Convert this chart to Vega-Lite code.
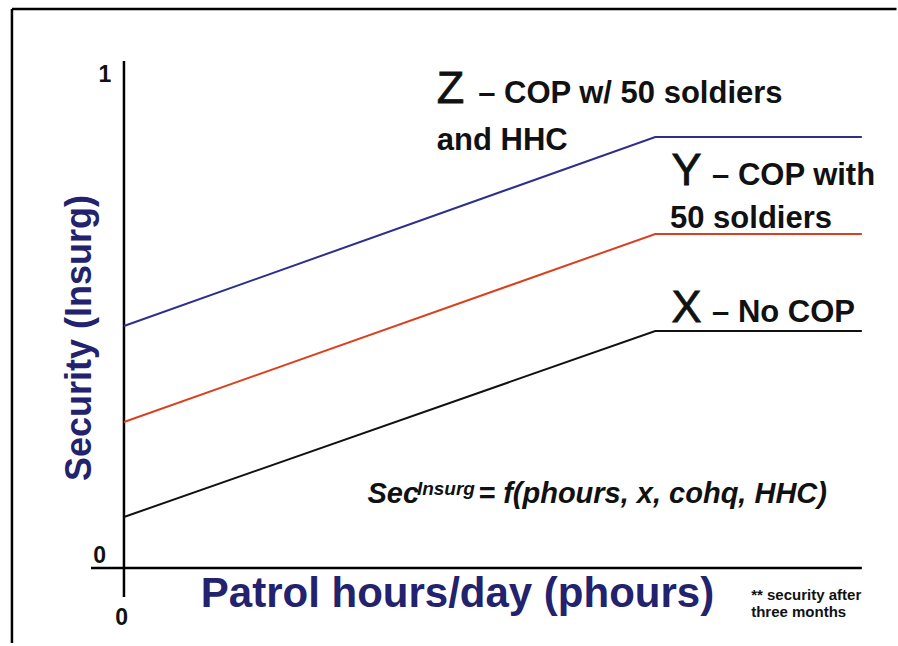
{
  "$schema": "https://vega.github.io/schema/vega-lite/v6.json",
  "autosize": {"type": "fit", "contains": "padding"},
  "width": 898,
  "height": 646,
  "padding": 0,
  "background": "white",
  "config": {"view": {"stroke": null}},
  "datasets": {
    "lines": [
      {"series": "Z", "h": 0, "s": 0.484},
      {"series": "Z", "h": 7.2, "s": 0.862},
      {"series": "Z", "h": 10, "s": 0.862},
      {"series": "Y", "h": 0, "s": 0.292},
      {"series": "Y", "h": 7.2, "s": 0.668},
      {"series": "Y", "h": 10, "s": 0.668},
      {"series": "X", "h": 0, "s": 0.102},
      {"series": "X", "h": 7.2, "s": 0.474},
      {"series": "X", "h": 10, "s": 0.474}
    ],
    "axes": [
      {"name": "xaxis", "h": -0.447, "s": 0, "h2": 10, "s2": 0},
      {"name": "yaxis", "h": 0, "s": -0.058, "h2": 0, "s2": 1.014},
      {"name": "frameLeft", "h": -1.518, "s": -0.15, "h2": -1.518, "s2": 1.118},
      {"name": "frameTop", "h": -1.518, "s": 1.118, "h2": 10.47, "s2": 1.118}
    ],
    "ticklabels": [
      {"h": -0.257, "s": 0.986, "label": "1"},
      {"h": -0.33, "s": 0.024, "label": "0"},
      {"h": -0.03, "s": -0.1, "label": "0"}
    ],
    "bigletters": [
      {"h": 4.24, "s": 0.93, "label": "Z"},
      {"h": 7.42, "s": 0.766, "label": "Y"},
      {"h": 7.42, "s": 0.492, "label": "X"}
    ],
    "seriesText": [
      {"h": 4.8, "s": 0.93, "label": "– COP w/ 50 soldiers"},
      {"h": 4.24, "s": 0.836, "label": "and HHC"},
      {"h": 7.97, "s": 0.766, "label": "– COP with"},
      {"h": 7.4, "s": 0.68, "label": "50 soldiers"},
      {"h": 7.97, "s": 0.492, "label": "– No COP"}
    ],
    "formulaMain": [
      {"h": 3.3, "s": 0.13, "label": "Sec"},
      {"h": 4.8, "s": 0.13, "label": "= f(phours, x, cohq, HHC)"}
    ],
    "formulaSup": [
      {"h": 3.97, "s": 0.146, "label": "Insurg"}
    ],
    "xtitle": [
      {"h": 4.52, "s": -0.078, "label": "Patrol hours/day (phours)"}
    ],
    "ytitle": [
      {"h": -0.6, "s": 0.46, "label": "Security (Insurg)"}
    ],
    "note": [
      {"h": 8.5, "s": -0.064, "label": "** security after"},
      {"h": 8.5, "s": -0.098, "label": "three months"}
    ]
  },
  "layer": [
    {
      "data": {"name": "axes"},
      "mark": {"type": "rule", "color": "black", "strokeWidth": 2.5},
      "encoding": {
        "x": {"field": "h", "type": "quantitative", "scale": {"domain": [-1.68, 10.49], "nice": false, "zero": false}, "axis": null},
        "y": {"field": "s", "type": "quantitative", "scale": {"domain": [-0.156, 1.136], "nice": false, "zero": false}, "axis": null},
        "x2": {"field": "h2"},
        "y2": {"field": "s2"}
      }
    },
    {
      "data": {"name": "lines"},
      "mark": {"type": "line", "strokeWidth": 2},
      "encoding": {
        "x": {"field": "h", "type": "quantitative"},
        "y": {"field": "s", "type": "quantitative"},
        "detail": {"field": "series"},
        "color": {"field": "series", "type": "nominal", "scale": {"domain": ["Z", "Y", "X"], "range": ["#2e2e8c", "#d9401e", "#111111"]}, "legend": null}
      }
    },
    {
      "data": {"name": "ticklabels"},
      "mark": {"type": "text", "font": "Liberation Sans", "fontWeight": "bold", "fontSize": 23, "align": "center", "baseline": "middle", "color": "#111"},
      "encoding": {
        "x": {"field": "h", "type": "quantitative"},
        "y": {"field": "s", "type": "quantitative"},
        "text": {"field": "label"}
      }
    },
    {
      "data": {"name": "bigletters"},
      "mark": {"type": "text", "font": "Liberation Sans", "fontSize": 45, "align": "left", "baseline": "alphabetic", "color": "#111", "stroke": "#111", "strokeWidth": 0.8},
      "encoding": {
        "x": {"field": "h", "type": "quantitative"},
        "y": {"field": "s", "type": "quantitative"},
        "text": {"field": "label"}
      }
    },
    {
      "data": {"name": "seriesText"},
      "mark": {"type": "text", "font": "Liberation Sans", "fontWeight": "bold", "fontSize": 31, "align": "left", "baseline": "alphabetic", "color": "#111"},
      "encoding": {
        "x": {"field": "h", "type": "quantitative"},
        "y": {"field": "s", "type": "quantitative"},
        "text": {"field": "label"}
      }
    },
    {
      "data": {"name": "formulaMain"},
      "mark": {"type": "text", "font": "Liberation Sans", "fontWeight": "bold", "fontStyle": "italic", "fontSize": 29, "align": "left", "baseline": "alphabetic", "color": "#111"},
      "encoding": {
        "x": {"field": "h", "type": "quantitative"},
        "y": {"field": "s", "type": "quantitative"},
        "text": {"field": "label"}
      }
    },
    {
      "data": {"name": "formulaSup"},
      "mark": {"type": "text", "font": "Liberation Sans", "fontWeight": "bold", "fontStyle": "italic", "fontSize": 19, "align": "left", "baseline": "alphabetic", "color": "#111"},
      "encoding": {
        "x": {"field": "h", "type": "quantitative"},
        "y": {"field": "s", "type": "quantitative"},
        "text": {"field": "label"}
      }
    },
    {
      "data": {"name": "xtitle"},
      "mark": {"type": "text", "font": "Liberation Sans", "fontWeight": "bold", "fontSize": 42, "align": "center", "baseline": "alphabetic", "color": "#22226e"},
      "encoding": {
        "x": {"field": "h", "type": "quantitative"},
        "y": {"field": "s", "type": "quantitative"},
        "text": {"field": "label"}
      }
    },
    {
      "data": {"name": "ytitle"},
      "mark": {"type": "text", "font": "Liberation Sans", "fontWeight": "bold", "fontSize": 36, "align": "center", "baseline": "middle", "angle": 270, "color": "#22226e"},
      "encoding": {
        "x": {"field": "h", "type": "quantitative"},
        "y": {"field": "s", "type": "quantitative"},
        "text": {"field": "label"}
      }
    },
    {
      "data": {"name": "note"},
      "mark": {"type": "text", "font": "Liberation Sans", "fontWeight": "bold", "fontSize": 15, "align": "left", "baseline": "alphabetic", "color": "#111"},
      "encoding": {
        "x": {"field": "h", "type": "quantitative"},
        "y": {"field": "s", "type": "quantitative"},
        "text": {"field": "label"}
      }
    }
  ]
}
